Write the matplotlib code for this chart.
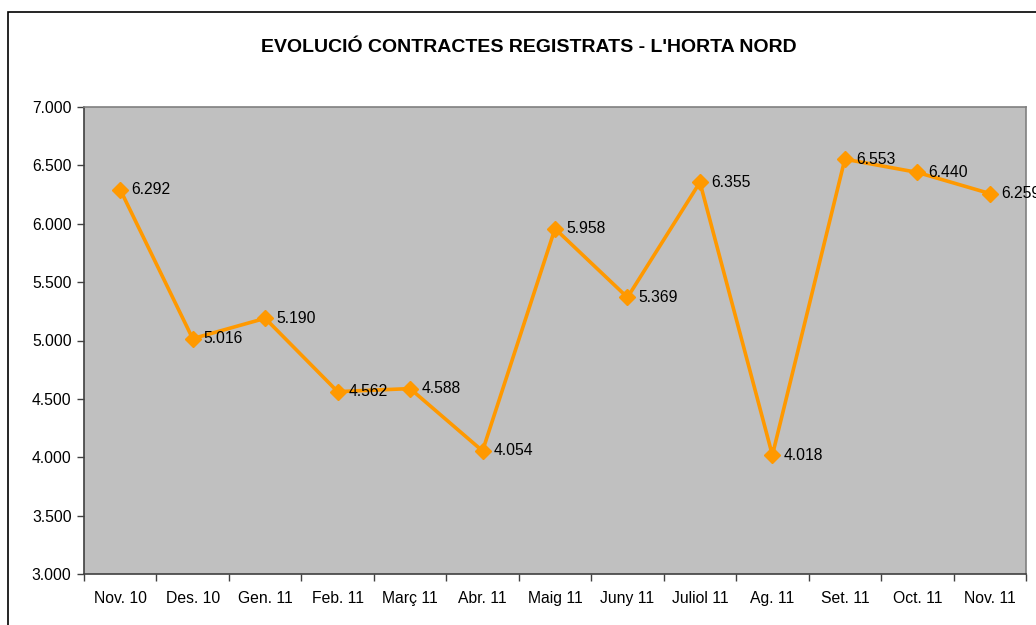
import matplotlib
matplotlib.use("Agg")
import matplotlib.pyplot as plt
from matplotlib.patches import Rectangle
from matplotlib.ticker import FixedLocator, FuncFormatter

plt.rcParams['font.family'] = ['Liberation Sans', 'DejaVu Sans']

months = ["Nov. 10", "Des. 10", "Gen. 11", "Feb. 11", "Març 11", "Abr. 11",
          "Maig 11", "Juny 11", "Juliol 11", "Ag. 11", "Set. 11", "Oct. 11", "Nov. 11"]
contracts = [6292, 5016, 5190, 4562, 4588, 4054, 5958, 5369, 6355, 4018, 6553, 6440, 6259]
title = "EVOLUCIÓ CONTRACTES REGISTRATS - L'HORTA NORD"


def euro_fmt(v, pos=None):
    # 6292 -> "6.292"
    return f"{int(round(v)):,}".replace(",", ".")


fig = plt.figure(figsize=(10.36, 6.25), dpi=100)
fig.patch.set_facecolor("white")

# outer chart frame (cut off at right and bottom in the original)
fig.add_artist(Rectangle((8 / 1036, -0.1), 1.2, 1 - 12 / 625 + 0.1,
                         transform=fig.transFigure, fill=False,
                         edgecolor="black", linewidth=1.2))

ax = fig.add_axes([84 / 1036, 1 - 574 / 625, 942 / 1036, 467 / 625])
ax.set_facecolor("#C0C0C0")

x = list(range(len(months)))
ax.plot(x, contracts, color="#FF9900", linewidth=2.6, marker="D",
        markersize=8.5, markeredgecolor="#FF9900", clip_on=False, zorder=3)

for xi, v in zip(x, contracts):
    ax.annotate(euro_fmt(v), (xi, v), xytext=(8, 0), textcoords="offset points",
                va="center", ha="left", fontsize=11.3, color="black",
                annotation_clip=False, zorder=4)

ax.set_xlim(-0.5, len(months) - 0.5)
ax.set_ylim(3000, 7000)
ax.yaxis.set_major_locator(FixedLocator(range(3000, 7001, 500)))
ax.yaxis.set_major_formatter(FuncFormatter(euro_fmt))

ax.set_xticks(x)
ax.set_xticklabels(months)
ax.xaxis.set_minor_locator(FixedLocator([i - 0.5 for i in range(len(months) + 1)]))
ax.tick_params(axis="x", which="major", length=0, pad=12, labelsize=11.3)
ax.tick_params(axis="x", which="minor", length=5, width=1, color="#404040")
ax.tick_params(axis="y", length=5, width=1, color="#404040", labelsize=11.3, pad=4)

for side in ("left", "bottom"):
    ax.spines[side].set_color("#404040")
    ax.spines[side].set_linewidth(1.2)
for side in ("top", "right"):
    ax.spines[side].set_color("#808080")
    ax.spines[side].set_linewidth(1.2)

fig.text(529 / 1036, 1 - 48 / 625, title, ha="center", va="center",
         fontsize=14, fontweight="bold")

fig.savefig("out.png", dpi=100)
